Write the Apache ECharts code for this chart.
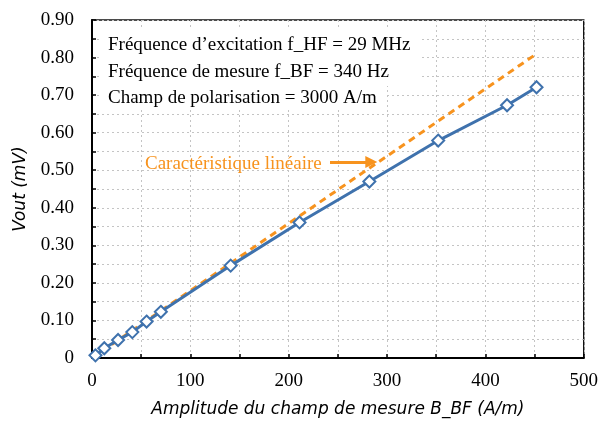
<!DOCTYPE html>
<html><head><meta charset="utf-8">
<script src="https://cdn.jsdelivr.net/npm/echarts@6/dist/echarts.min.js"></script>
<style>html,body{margin:0;padding:0;background:#fff}#c{width:601px;height:423px}</style>
</head><body><div id="c"></div>
<script>
// Measured data
const fieldBF = [3.5, 12.5, 26.5, 41, 55.5, 70, 141, 211, 282, 352, 422, 452];
const vout = [0.007, 0.026, 0.048, 0.069, 0.097, 0.123, 0.246, 0.361, 0.470, 0.579, 0.673, 0.721];
// Linear characteristic (endpoints)
const linX = [0, 452];
const linY = [0, 0.81];
const infoLines = [
  "Fréquence d\u2019excitation f_HF = 29 MHz",
  "Fréquence de mesure f_BF = 340 Hz",
  "Champ de polarisation = 3000 A/m"
];
const linLabel = "Caractéristique linéaire";
const xName = "Amplitude du champ de mesure B_BF (A/m)";
const yName = "Vout (mV)";

const BLUE = '#3f72ad';
const ORANGE = '#f7931e';
const serif = '"Liberation Serif", "DejaVu Serif", serif';
const sans = '"DejaVu Sans", sans-serif';

const chart = echarts.init(document.getElementById('c'), null, {renderer: 'canvas'});
const gridLine = {show: true, lineStyle: {color: '#c4c4c4', type: [2, 3], width: 1}};
chart.setOption({
  animation: false,
  backgroundColor: '#fff',
  grid: {left: 92, right: 15, top: 20, bottom: 62, show: true, borderColor: '#111', borderWidth: 1.5, backgroundColor: 'transparent'},
  xAxis: {
    type: 'value', min: 0, max: 500, interval: 100,
    axisLine: {show: true, onZero: false, lineStyle: {color: '#000', width: 2}},
    axisTick: {show: true, inside: true, length: 4, lineStyle: {color: '#000', width: 1.5}},
    minorTick: {show: true, splitNumber: 2, length: 4, lineStyle: {color: '#000', width: 1.5}},
    splitLine: gridLine,
    minorSplitLine: gridLine,
    axisLabel: {color: '#000', fontFamily: serif, fontSize: 19, margin: 14},
    name: xName, nameLocation: 'middle', nameGap: 43,
    nameTextStyle: {fontFamily: sans, fontStyle: 'italic', fontSize: 17, color: '#000'}
  },
  yAxis: {
    type: 'value', min: 0, max: 0.9, interval: 0.1,
    axisLine: {show: true, onZero: false, lineStyle: {color: '#000', width: 2}},
    axisTick: {show: true, inside: true, length: 4, lineStyle: {color: '#000', width: 1.5}},
    minorTick: {show: true, splitNumber: 2, length: 4, lineStyle: {color: '#000', width: 1.5}},
    splitLine: gridLine,
    minorSplitLine: gridLine,
    axisLabel: {color: '#000', fontFamily: serif, fontSize: 19, margin: 18,
      formatter: v => v === 0 ? '0' : v.toFixed(2)},
    name: yName, nameLocation: 'middle', nameGap: 63, nameRotate: 90,
    nameTextStyle: {fontFamily: sans, fontStyle: 'italic', fontSize: 17, color: '#000'}
  },
  graphic: [
    {type: 'rect', z: 1, shape: {x: 100, y: 30, width: 320, height: 56}, style: {fill: '#fff'}},
    {type: 'rect', z: 1, shape: {x: 100, y: 86, width: 285, height: 22}, style: {fill: '#fff'}},
    {type: 'text', z: 5, x: 108, y: 45.5, style: {text: infoLines[0], fontFamily: serif, fontSize: 19, fill: '#000', verticalAlign: 'middle'}},
    {type: 'text', z: 5, x: 108, y: 72, style: {text: infoLines[1], fontFamily: serif, fontSize: 19, fill: '#000', verticalAlign: 'middle'}},
    {type: 'text', z: 5, x: 108, y: 98.5, style: {text: infoLines[2], fontFamily: serif, fontSize: 19, fill: '#000', verticalAlign: 'middle'}},
    {type: 'text', z: 5, x: 145, y: 164, style: {text: linLabel, fontFamily: serif, fontSize: 19, fill: ORANGE, verticalAlign: 'middle'}}
  ],
  series: [
    {
      type: 'line', z: 2,
      data: linX.map((x, i) => [x, linY[i]]),
      showSymbol: false, symbol: 'none',
      lineStyle: {color: ORANGE, width: 3, type: [7, 5]},
      markLine: {
        silent: true, symbol: ['none', 'triangle'], symbolSize: [12, 12],
        label: {show: false},
        lineStyle: {color: ORANGE, width: 3, type: 'solid'},
        data: [[{coord: [242, 0.522]}, {coord: [284, 0.522]}]]
      }
    },
    {
      type: 'line', z: 3,
      data: fieldBF.map((x, i) => [x, vout[i]]),
      symbol: 'diamond', symbolSize: 12,
      itemStyle: {color: '#fff', borderColor: BLUE, borderWidth: 2},
      lineStyle: {color: BLUE, width: 3}
    }
  ]
});
</script></body></html>
